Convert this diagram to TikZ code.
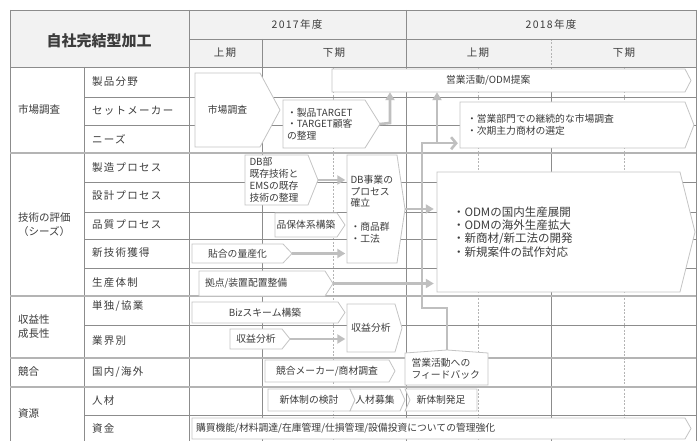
\documentclass[tikz,border=0pt]{standalone}
\usepackage{fontspec}
\setmainfont{Noto Sans CJK JP}
\newfontfamily\spacedfont{Noto Sans CJK JP}[LetterSpace=12]
\usetikzlibrary{arrows.meta}
\definecolor{gridc}{HTML}{8C8C8C}
\definecolor{gridl}{HTML}{B4B4B4}
\definecolor{boxc}{HTML}{C4C4C4}
\definecolor{arrc}{HTML}{BFBFBF}
\definecolor{txt}{HTML}{3C3C3C}
\definecolor{hdr}{HTML}{F2F2F2}
\tikzset{
  gridline/.style={draw=gridc, line width=0.7pt},
  groupline/.style={draw=gridl, line width=1.8pt},
  dashline/.style={draw=gridl, line width=0.7pt, dash pattern=on 2pt off 1.5pt},
  shapebox/.style={draw=boxc, fill=white, line width=0.8pt, line join=miter},
  conn/.style={draw=arrc, line width=2.6pt, -{Triangle[length=8pt,width=9pt]}},
  barb/.style={draw=arrc, line width=2.6pt, -{Straight Barb[length=5pt,width=12pt]}},
  chtext/.style={font=\fontsize{9.8}{11.8}\selectfont, text=txt, inner sep=0pt},
  bigtext/.style={font=\fontsize{11.5}{13.2}\selectfont, text=txt, inner sep=0pt},
  catlab/.style={font=\fontsize{10.5}{14}\selectfont, text=txt, anchor=west, inner sep=0pt},
  sublab/.style={font=\fontsize{10.5}{14}\selectfont\spacedfont, text=txt, anchor=west, inner sep=0pt},
  hdlab/.style={font=\fontsize{10.5}{14}\selectfont\spacedfont, text=txt, inner sep=0pt},
}
\newcommand{\chevbox}[8]{%
  \draw[shapebox] (#2,#3) -- (#4,#3) -- (#6,{(#3+#5)/2}) -- (#4,#5) -- (#2,#5) -- cycle;
  \coordinate (#1-tip) at (#6,{(#3+#5)/2});
  \node[chtext, minimum width={#4-#2}, minimum height={#5-#3}, #7] (#1) at ({(#2+#4)/2},{(#3+#5)/2}) {#8};
}
\newcommand{\notchbox}[9]{%
  \draw[shapebox] (#2,#3) -- (#4,#3) -- (#6,{(#3+#5)/2}) -- (#4,#5) -- (#2,#5) -- (#7,{(#3+#5)/2}) -- cycle;
  \coordinate (#1-tip) at (#6,{(#3+#5)/2});
  \node[chtext, minimum width={#4-#2}, minimum height={#5-#3}, #8] (#1) at ({(#2+#4)/2},{(#3+#5)/2}) {#9};
}
\begin{document}
\begin{tikzpicture}[x=1pt,y=-1pt]
\useasboundingbox (0,0) rectangle (697,441);
\fill[white] (0,0) rectangle (697,441);
\fill[hdr] (10,10) rectangle (696,67);
% vertical grid
\draw[gridline] (10,10) -- (10,441);
\draw[gridline] (696,10) -- (696,441);
\draw[gridline] (189,10) -- (189,441);
\draw[gridline] (406,10) -- (406,441);
\draw[gridline] (262,39) -- (262,441);
\draw[dashline] (551,39) -- (551,67);
\draw[gridline] (551,67) -- (551,441);
\draw[gridline] (84,67) -- (84,441);
\foreach \x in {333,478,624} \draw[dashline] (\x,67) -- (\x,441);
% horizontal grid
\draw[gridline] (10,10) -- (696,10);
\draw[gridline] (189,39) -- (696,39);
\draw[gridline] (10,67) -- (696,67);
\foreach \y in {97,125,182,212,239,268,325,415} \draw[gridline] (84,\y) -- (696,\y);
\foreach \y in {153,296,358,387} \draw[groupline] (10,\y) -- (696,\y);
% header labels
\node[font=\fontsize{15}{18}\selectfont\bfseries, text=txt, inner sep=0pt] (title) at (99,41) {自社完結型加工};
\node[hdlab] (y17) at (297,25) {2017年度};
\node[hdlab] (y18) at (551,25) {2018年度};
\node[hdlab] (h17a) at (225,53) {上期};
\node[hdlab] (h17b) at (334,53) {下期};
\node[hdlab] (h18a) at (478,53) {上期};
\node[hdlab] (h18b) at (624,53) {下期};
% category labels
\node[catlab] (c1) at (18,110) {市場調査};
\node[catlab, align=left] (c2) at (18,225) {技術の評価\\（シーズ）};
\node[catlab, align=left] (c3) at (18,327) {収益性\\成長性};
\node[catlab] (c4) at (18,372) {競合};
\node[catlab] (c5) at (18,414) {資源};
% sub labels
\node[sublab] (s1) at (92,82) {製品分野};
\node[sublab] (s2) at (92,111) {セットメーカー};
\node[sublab] (s3) at (92,139) {ニーズ};
\node[sublab] (s4) at (92,168) {製造プロセス};
\node[sublab] (s5) at (92,196) {設計プロセス};
\node[sublab] (s6) at (92,225) {品質プロセス};
\node[sublab] (s7) at (92,253) {新技術獲得};
\node[sublab] (s8) at (92,283) {生産体制};
\node[sublab] (s9) at (92,306) {単独/協業};
\node[sublab] (s10) at (92,341) {業界別};
\node[sublab] (s11) at (92,372) {国内/海外};
\node[sublab] (s12) at (92,401) {人材};
\node[sublab] (s13) at (92,429) {資金};
% chart shapes
\chevbox{shichou}{195}{73}{260}{147}{280}{}{市場調査}
\chevbox{target}{283}{100}{365}{148}{380}{text width=74pt, align=left}{・製品TARGET\\・TARGET顧客\\の整理}
\chevbox{eigyo}{332}{69}{685}{92}{691}{text width=125pt, align=left}{営業活動/ODM提案}
\chevbox{sales}{460}{102}{685}{148}{694}{text width=211pt, align=left}{・営業部門での継続的な市場調査\\・次期主力商材の選定}
\chevbox{db}{245}{155}{308}{205}{318}{text width=54pt, align=left}{DB部\\既存技術と\\EMSの既存\\技術の整理}
\chevbox{hinpo}{275}{213}{337}{237}{345}{}{品保体系構築}
\chevbox{hari}{192}{244}{283}{263}{292}{}{貼合の量産化}
\chevbox{kyoten}{199}{271}{325}{296}{333}{text width=114pt, align=left}{拠点/装置配置整備}
\chevbox{dbj}{347}{155}{397}{263}{405}{text width=43pt, align=left}{DB事業の\\プロセス\\確立\\[11.8pt]・商品群\\・工法}
\chevbox{big}{437}{172}{680}{292}{695}{bigtext, text width=211pt, align=left}{・ODMの国内生産展開\\・ODMの海外生産拡大\\・新商材/新工法の開発\\・新規案件の試作対応}
\chevbox{biz}{192}{302}{338}{323}{345}{}{Bizスキーム構築}
\chevbox{shueki1}{230}{329}{282}{349}{290}{}{収益分析}
\chevbox{shueki2}{347}{304}{395}{352}{402}{}{収益分析}
\chevbox{kyogo}{265}{360}{389}{382}{395}{}{競合メーカー/商材調査}
\draw[shapebox] (405,353) -- (447,350) -- (488,353) -- (488,385) -- (405,385) -- cycle;
\coordinate (fb-top) at (447,350);
\node[chtext, text width=70pt, align=left, minimum height=32pt] (fb) at (446.5,369) {営業活動への\\フィードバック};
\chevbox{shintai}{268}{389}{350}{411}{355}{}{新体制の検討}
\notchbox{jinzai}{350}{389}{400}{411}{405}{355}{}{人材募集}
\notchbox{hossoku}{405}{389}{477}{411}{477}{410}{}{新体制発足}
\chevbox{kobai}{192}{418}{685}{439}{691}{text width=485pt, align=left}{購買機能/材料調達/在庫管理/仕損管理/設備投資についての管理強化}
% connectors
\coordinate (tj) at (390,123);
\draw[conn] (target-tip) -- (tj) -- (tj |- eigyo.south);
\draw[conn, shorten >=1.5pt] (db-tip) -- (db-tip -| dbj.west);
\draw[conn, shorten >=1.5pt] (hari-tip) -- (hari-tip -| dbj.west);
\draw[conn, shorten >=1.5pt] (shueki1-tip) -- (shueki1-tip -| shueki2.west);
\draw[conn, shorten >=3pt] (dbj-tip) -- (dbj-tip -| big.west);
\draw[conn, shorten >=3pt] (kyoten-tip) -- (kyoten-tip -| big.west);
\coordinate (fbturn) at (422,308);
\coordinate (fbjoin) at (437,143);
\draw[barb, shorten >=2pt] (fb-top) |- (fbturn) |- ([yshift=5pt]sales.south west);
\draw[conn] (fbjoin) -- (fbjoin |- eigyo.south);
\end{tikzpicture}
\end{document}
